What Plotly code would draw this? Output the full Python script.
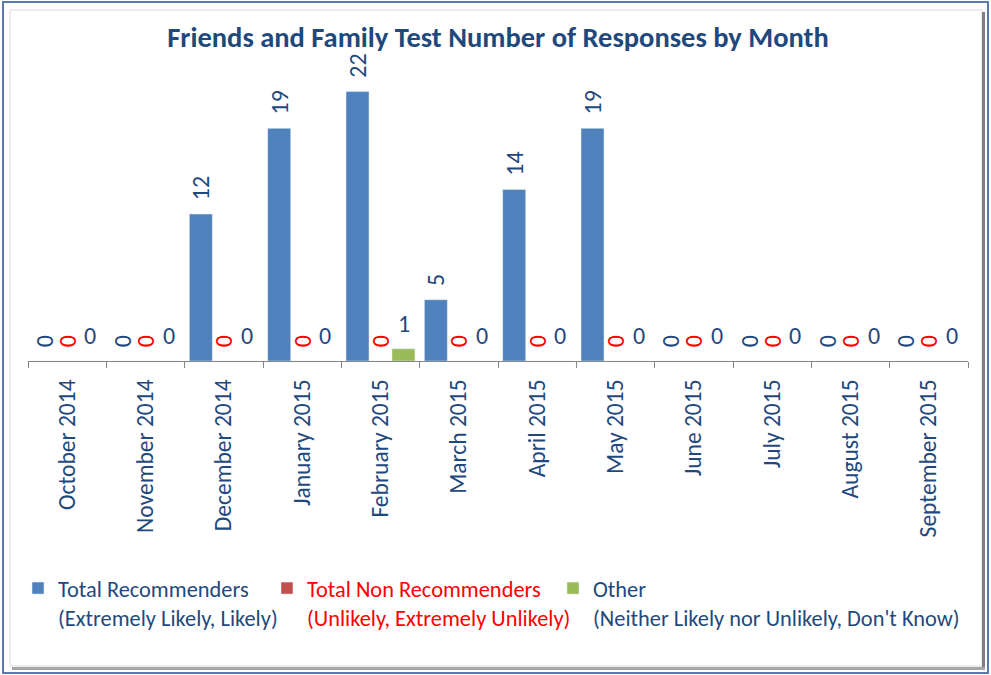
import plotly.graph_objects as go

months = ["October 2014", "November 2014", "December 2014", "January 2015",
          "February 2015", "March 2015", "April 2015", "May 2015",
          "June 2015", "July 2015", "August 2015", "September 2015"]
recommenders = [0, 0, 12, 19, 22, 5, 14, 19, 0, 0, 0, 0]
non_recommenders = [0, 0, 0, 0, 0, 0, 0, 0, 0, 0, 0, 0]
other = [0, 0, 0, 0, 1, 0, 0, 0, 0, 0, 0, 0]

title_text = "Friends and Family Test Number of Responses by Month"
name_rec = "Total Recommenders<br>(Extremely Likely, Likely)"
name_non = "<span style='color:#FF0000'>Total Non Recommenders<br>(Unlikely, Extremely Unlikely)</span>"
name_oth = "Other<br>(Neither Likely nor Unlikely, Don't Know)"

FONT = "Carlito, Lato, sans-serif"
DARK = "#1F497D"
PAD = "\u00a0\u00a0"

W, H = 991, 675
L, R, T, B = 28, 23, 61, 314
PW, PH = W - L - R, H - T - B


def px(x):
    return (x - L) / PW


def py(y):
    return (H - B - y) / PH


fig = go.Figure()
fig.add_trace(go.Bar(
    x=months, y=recommenders, name=name_rec, marker_color="#4F81BD",
    text=[PAD + str(v) for v in recommenders], textposition="outside", textangle=-90,
    textfont=dict(family=FONT, size=24, color=DARK), cliponaxis=False,
    constraintext="none", legendwidth=204))
fig.add_trace(go.Bar(
    x=months, y=non_recommenders, name=name_non, marker_color="#C0504D",
    text=[PAD + str(v) for v in non_recommenders], textposition="outside", textangle=-90,
    textfont=dict(family=FONT, size=24, color="#FF0000"), cliponaxis=False,
    constraintext="none", legendwidth=241))
fig.add_trace(go.Bar(
    x=months, y=other, name=name_oth, marker_color="#9BBB59",
    cliponaxis=False, legendwidth=380))

# horizontal value labels of the "Other" series, placed at the data points
for m, v in zip(months, other):
    fig.add_annotation(x=m, y=v, xref="x", yref="y", text=str(v), showarrow=False,
                       xshift=23, yshift=9, yanchor="bottom",
                       font=dict(family=FONT, size=24, color=DARK))

shapes = [
    dict(type="rect", xref="paper", yref="paper", x0=px(3), x1=px(988), y0=py(2), y1=py(673),
         line=dict(color="#5A7BAA", width=2), layer="below"),
    dict(type="rect", xref="paper", yref="paper", x0=px(10), x1=px(982), y0=py(10), y1=py(666),
         line=dict(color="#DADADA", width=1), layer="below"),
    dict(type="line", xref="paper", yref="paper", x0=px(983.5), x1=px(983.5), y0=py(12), y1=py(669),
         line=dict(color="#7F7F7F", width=3)),
    dict(type="line", xref="paper", yref="paper", x0=px(12), x1=px(985), y0=py(668.5), y1=py(668.5),
         line=dict(color="#A6A6A6", width=3)),
]

fig.update_layout(
    width=W, height=H,
    margin=dict(l=L, r=R, t=T, b=B),
    paper_bgcolor="white", plot_bgcolor="white",
    barmode="group", bargap=0.12, bargroupgap=0,
    title=dict(text="<b>" + title_text + "</b>", x=0.5, xref="paper", xanchor="center",
               y=1 - 37 / H, yanchor="middle",
               font=dict(family=FONT, size=28.5, color=DARK)),
    xaxis=dict(type="category", tickangle=-90, tickson="boundaries", ticks="outside",
               ticklen=6, tickcolor="#868686", showline=True, linecolor="#868686",
               linewidth=1, showgrid=False, ticklabelstandoff=8,
               tickfont=dict(family=FONT, size=23.5, color=DARK)),
    yaxis=dict(range=[0, 24.5], visible=False, showgrid=False, zeroline=False),
    showlegend=True,
    legend=dict(orientation="h", x=px(18), xanchor="left", y=py(567), yanchor="top",
                valign="top", itemwidth=30, traceorder="normal",
                font=dict(family=FONT, size=22.4, color=DARK), bgcolor="rgba(0,0,0,0)"),
    shapes=shapes,
)

fig.write_html("out.html", config={"displayModeBar": False},
               post_script="document.body.style.margin='0';")
